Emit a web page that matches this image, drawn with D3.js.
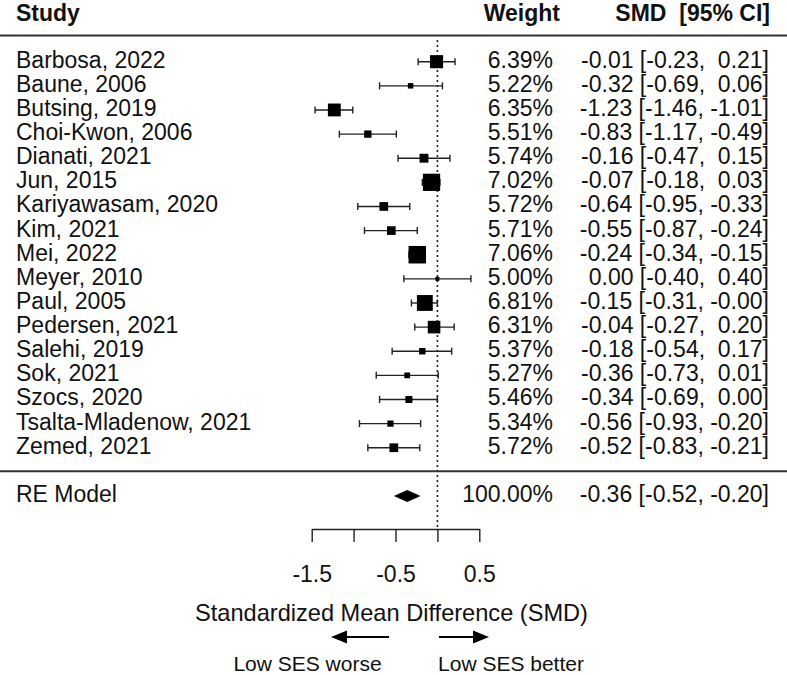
<!DOCTYPE html>
<html lang="en">
<head>
<meta charset="UTF-8">
<script src="https://d3js.org/d3.v7.min.js"></script>
<style>
  body { margin: 0; background: #fff; }
  svg { display: block; }
  text { font-family: "Liberation Sans", Arial, sans-serif; fill: #111; white-space: pre; }
</style>
</head>
<body>
<svg id="chart" width="787" height="675"></svg>
<script>
// study rows (top to bottom)
const studies = ["Barbosa, 2022", "Baune, 2006", "Butsing, 2019", "Choi-Kwon, 2006", "Dianati, 2021",
  "Jun, 2015", "Kariyawasam, 2020", "Kim, 2021", "Mei, 2022", "Meyer, 2010", "Paul, 2005",
  "Pedersen, 2021", "Salehi, 2019", "Sok, 2021", "Szocs, 2020", "Tsalta-Mladenow, 2021", "Zemed, 2021"]
const weights = [6.39, 5.22, 6.35, 5.51, 5.74, 7.02, 5.72, 5.71, 7.06, 5.00, 6.81, 6.31, 5.37, 5.27, 5.46, 5.34, 5.72]
const smd = [-0.01, -0.32, -1.23, -0.83, -0.16, -0.07, -0.64, -0.55, -0.24, 0.00, -0.15, -0.04, -0.18, -0.36, -0.34, -0.56, -0.52]
const ciLow = [-0.23, -0.69, -1.46, -1.17, -0.47, -0.18, -0.95, -0.87, -0.34, -0.40, -0.31, -0.27, -0.54, -0.73, -0.69, -0.93, -0.83]
const ciHigh = [0.21, 0.06, -1.01, -0.49, 0.15, 0.03, -0.33, -0.24, -0.15, 0.40, -0.00, 0.20, 0.17, 0.01, 0.00, -0.20, -0.21]

// pooled random-effects estimate
const reLabel = "RE Model"
const reWeight = 100.00
const reEst = [-0.52, -0.36, -0.20]

const tickValues = [-1.5, -1, -0.5, 0, 0.5]
const tickLabels = ["-1.5", "", "-0.5", "", "0.5"]
const xTitle = "Standardized Mean Difference (SMD)"
const arrowLabels = ["Low SES worse", "Low SES better"]

const svg = d3.select('#chart')
const fs = 23

// x scale (effect size)
const x = d3.scaleLinear().domain([-1.5, 0.5]).range([311.7, 479.3])
// row scale: 0..16 studies, 17 = separator, 18 = RE model
const y = d3.scaleLinear().domain([0, 18]).range([61.7, 496])
// square size from weight
const size = d3.scaleLinear().domain(d3.extent(weights)).range([4, 17.5])

const fmt = v => (v < 0 || Object.is(v, -0)) ? '-' + Math.abs(v).toFixed(2) : ' ' + v.toFixed(2)

const rows = studies.map((s, i) => ({ s, w: weights[i], est: smd[i], lo: ciLow[i], hi: ciHigh[i], i }))

// header
const head = svg.append('g').attr('font-weight', 'bold').attr('font-size', fs)
head.append('text').attr('x', 16).attr('y', 21).text('Study')
head.append('text').attr('x', 560).attr('y', 21).attr('text-anchor', 'end').text('Weight')
head.append('text').attr('x', 770).attr('y', 21).attr('text-anchor', 'end').text('SMD  [95% CI]')

// horizontal rules
svg.append('line').attr('x1', 0).attr('x2', 787).attr('y1', 35.5).attr('y2', 35.5)
  .attr('stroke', '#333').attr('stroke-width', 2)
svg.append('line').attr('x1', 0).attr('x2', 787).attr('y1', y(17) - 0.5).attr('y2', y(17) - 0.5)
  .attr('stroke', '#333').attr('stroke-width', 2)

// reference line at 0
svg.append('line').attr('x1', x(0)).attr('x2', x(0)).attr('y1', 40).attr('y2', 529)
  .attr('stroke', '#222').attr('stroke-width', 1.6).attr('stroke-dasharray', '2,3')

// study rows
const g = svg.append('g').selectAll('g').data(rows).enter().append('g')
  .attr('transform', d => `translate(0, ${y(d.i)})`)

g.append('line').attr('x1', d => x(d.lo)).attr('x2', d => x(d.hi))
  .attr('stroke', '#222').attr('stroke-width', 1.4)
g.append('line').attr('x1', d => x(d.lo)).attr('x2', d => x(d.lo)).attr('y1', -3.5).attr('y2', 3.5)
  .attr('stroke', '#222').attr('stroke-width', 1.4)
g.append('line').attr('x1', d => x(d.hi)).attr('x2', d => x(d.hi)).attr('y1', -3.5).attr('y2', 3.5)
  .attr('stroke', '#222').attr('stroke-width', 1.4)
g.append('rect')
  .attr('x', d => x(d.est) - size(d.w) / 2)
  .attr('y', d => -size(d.w) / 2)
  .attr('width', d => size(d.w))
  .attr('height', d => size(d.w))
  .attr('fill', '#000')

g.append('text').attr('x', 16).attr('y', 6).attr('font-size', fs).text(d => d.s)
g.append('text').attr('x', 553).attr('y', 6).attr('font-size', fs).attr('text-anchor', 'end')
  .text(d => d.w.toFixed(2) + '%')
g.append('text').attr('x', 769).attr('y', 6).attr('font-size', fs).attr('text-anchor', 'end')
  .text(d => `${fmt(d.est)} [${fmt(d.lo)}, ${fmt(d.hi)}]`)

// RE model row
const re = svg.append('g').attr('transform', `translate(0, ${y(18)})`)
re.append('path')
  .attr('d', `M${x(reEst[0])},0 L${x(reEst[1])},-6 L${x(reEst[2])},0 L${x(reEst[1])},6 Z`)
  .attr('fill', '#000')
re.append('text').attr('x', 16).attr('y', 6).attr('font-size', fs).text(reLabel)
re.append('text').attr('x', 553).attr('y', 6).attr('font-size', fs).attr('text-anchor', 'end')
  .text(reWeight.toFixed(2) + '%')
re.append('text').attr('x', 769).attr('y', 6).attr('font-size', fs).attr('text-anchor', 'end')
  .text(`${fmt(reEst[1])} [${fmt(reEst[0])}, ${fmt(reEst[2])}]`)

// bottom axis
const axis = d3.axisBottom(x)
  .tickValues(tickValues)
  .tickFormat((d, i) => tickLabels[i])
  .tickSize(13)
  .tickSizeOuter(0)
  .tickPadding(24)
const ax = svg.append('g').attr('transform', 'translate(0, 529)').call(axis)
ax.selectAll('path, line').attr('stroke', '#222').attr('stroke-width', 1.4)
ax.selectAll('text').attr('font-size', fs).attr('font-family', '"Liberation Sans", Arial, sans-serif').attr('fill', '#111')

// axis title
svg.append('text').attr('x', 391.5).attr('y', 621).attr('font-size', 23.6)
  .attr('text-anchor', 'middle').text(xTitle)

// direction arrows
const arrows = [
  { x1: 389, x2: 331, label: arrowLabels[0], lx: 307.5 },
  { x1: 439, x2: 489, label: arrowLabels[1], lx: 511 }
]
const ag = svg.append('g').selectAll('g').data(arrows).enter().append('g')
ag.append('line').attr('x1', d => d.x1).attr('x2', d => d.x2 - Math.sign(d.x2 - d.x1) * 12)
  .attr('y1', 637).attr('y2', 637).attr('stroke', '#000').attr('stroke-width', 2.2)
ag.append('path').attr('fill', '#000')
  .attr('d', d => {
    const dir = Math.sign(d.x2 - d.x1)
    return `M${d.x2},637 L${d.x2 - dir * 16},630.5 L${d.x2 - dir * 16},643.5 Z`
  })
ag.append('text').attr('x', d => d.lx).attr('y', 671).attr('text-anchor', 'middle')
  .attr('font-family', 'Lato, "Open Sans", sans-serif').attr('font-size', 21).attr('fill', '#000')
  .text(d => d.label)
</script>
</body>
</html>
